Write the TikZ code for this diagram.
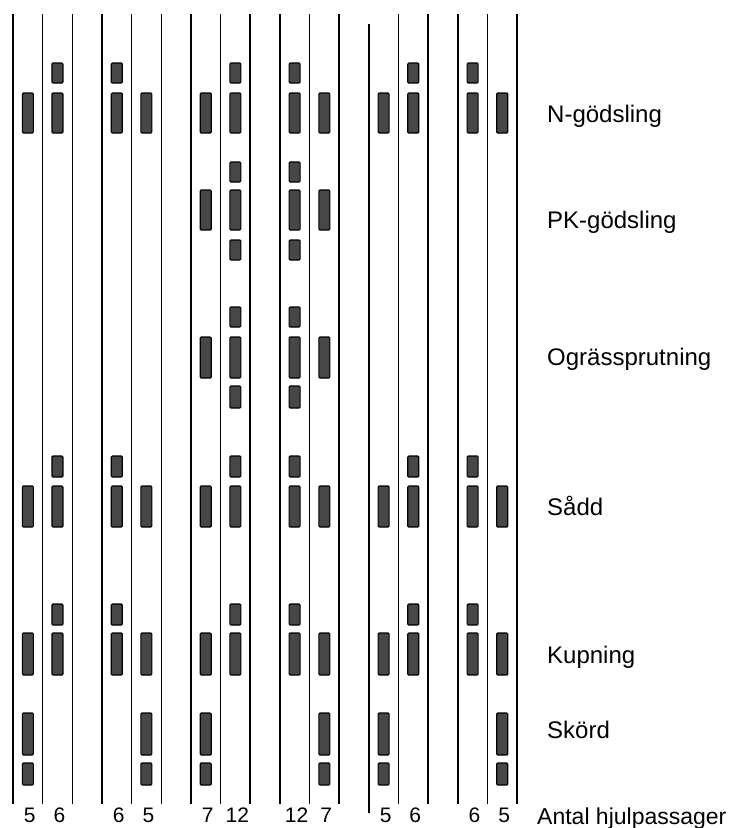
\documentclass[tikz,border=0pt]{standalone}
\usepackage{fontspec}
\setmainfont{Liberation Sans}
\usetikzlibrary{positioning}

\tikzset{
    track/.style={line width=1.5pt, black},
    passbar/.style={draw=black, fill=black!72, line width=1.1pt, rounded corners=1pt},
    rowlabel/.style={anchor=base west, inner sep=0pt, font=\fontsize{24}{28}\selectfont},
    passcount/.style={anchor=base, inner sep=0pt, font=\fontsize{21}{25}\selectfont}
}
% bar in column #1 (between track #1 and #1+1), from y=#2 to y=#3
\newcommand{\passbar}[3]{\draw[passbar] ({13+29.65*(#1+0.5)-5.5},#2) rectangle ({13+29.65*(#1+0.5)+5.5},#3);}

\begin{document}
\begin{tikzpicture}[x=1pt, y=-1pt]
    \useasboundingbox (0,0) rectangle (730,828);

    % wheel tracks
    \foreach \i in {1,...,11,13,14,15,16,17} {
        \draw[track] ({13+29.65*\i},14) -- ({13+29.65*\i},804);
    }
    \draw[track] (13,14) -- (13,804);
    \draw[track] ({13+29.65*12},24) -- ({13+29.65*12},813);

    % N-goedsling, Sadd, Kupning: long bar in every column
    \foreach \c in {0,1,3,4,6,7,9,10,12,13,15,16} {
        \passbar{\c}{93}{133}
        \passbar{\c}{486}{527}
        \passbar{\c}{633}{675}
    }
    % extra short bar where the count is 6 or 12
    \foreach \c in {1,3,7,9,13,15} {
        \passbar{\c}{63}{83}
        \passbar{\c}{456}{477}
        \passbar{\c}{604}{625}
    }
    % PK and ograssprutning only in the middle groups
    \foreach \c in {6,7,9,10} {
        \passbar{\c}{190}{230}
        \passbar{\c}{337}{378}
    }
    \foreach \c in {7,9} {
        \passbar{\c}{162}{182}
        \passbar{\c}{240}{260}
        \passbar{\c}{307}{327}
        \passbar{\c}{386}{408}
    }
    % skord where the count is 5 or 7
    \foreach \c in {0,4,6,10,12,16} {
        \passbar{\c}{713}{755}
        \passbar{\c}{763}{785}
    }

    % row labels
    \node[rowlabel] (ngod) at (547,122) {N-gödsling};
    \node[rowlabel] (pkgod) at (547,228) {PK-gödsling};
    \node[rowlabel] (ogras) at (547,365) {Ogrässprutning};
    \node[rowlabel] (sadd) at (547,515) {Sådd};
    \node[rowlabel] (kup) at (547,663) {Kupning};
    \node[rowlabel] (skord) at (547,738) {Skörd};

    % counts
    \foreach \c/\n in {0/5,1/6,3/6,4/5,6/7,7/12,9/12,10/7,12/5,13/6,15/6,16/5} {
        \node[passcount] (cnt\c) at ({15+29.65*(\c+0.5)},822) {\n};
    }
    \node[anchor=base west, inner sep=0pt, font=\fontsize{23}{27}\selectfont] (antal) at (537,824) {Antal hjulpassager};
\end{tikzpicture}
\end{document}
